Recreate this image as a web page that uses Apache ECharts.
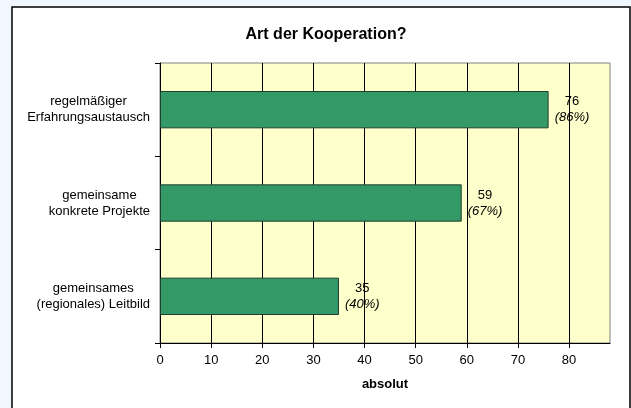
<!DOCTYPE html>
<html>
<head>
<meta charset="utf-8">
<script src="https://cdn.jsdelivr.net/npm/echarts@6/dist/echarts.min.js"></script>
<style>
  html, body { margin: 0; padding: 0; background: #f0f7fe; }
  #chart { width: 631px; height: 408px; }
</style>
</head>
<body>
<div id="chart"></div>
<script>
// Daten aus der Grafik
const categories = [
  ['regelmäßiger', 'Erfahrungsaustausch'],
  ['gemeinsame', 'konkrete Projekte'],
  ['gemeinsames', '(regionales) Leitbild']
];
const values = [76, 59, 35];
const percents = ['86%', '67%', '40%'];
const xTicks = [0, 10, 20, 30, 40, 50, 60, 70, 80];

const font = '"Liberation Sans", Arial, sans-serif';
let myChart = echarts.init(document.getElementById('chart'));

let option = {
  animation: false,
  textStyle: { fontFamily: font },
  graphic: [{
    type: 'rect',
    shape: { x: 12, y: 7, width: 618, height: 410 },
    style: { fill: '#ffffff', stroke: '#000000', lineWidth: 1.5 },
    z: -10, silent: true
  }],
  title: {
    text: 'Art der Kooperation?',
    left: 321, top: 22, textAlign: 'center',
    textStyle: { fontFamily: font, fontSize: 16, fontWeight: 'bold', color: '#000' }
  },
  grid: {
    left: 160, right: 21, top: 63, bottom: 65,
    show: true, backgroundColor: '#ffffcc', borderColor: '#808080', borderWidth: 1
  },
  xAxis: {
    type: 'value', min: 0, max: 88, interval: 10,
    name: 'absolut', nameLocation: 'middle', nameGap: 35,
    nameTextStyle: { fontFamily: font, fontSize: 13, fontWeight: 'bold', color: '#000' },
    axisLine: { show: true, lineStyle: { color: '#000', width: 1 } },
    axisTick: { show: true, length: 5, lineStyle: { color: '#000' }, customValues: xTicks },
    axisLabel: { fontFamily: font, fontSize: 13, color: '#000', margin: 11, customValues: xTicks },
    splitLine: { show: true, lineStyle: { color: '#000', width: 1 } }
  },
  yAxis: {
    type: 'category', inverse: true,
    data: categories.map(c => c.join('\n')),
    axisLine: { show: true, lineStyle: { color: '#000', width: 1 } },
    axisTick: { show: true, length: 5, lineStyle: { color: '#000' } },
    axisLabel: {
      margin: 10, fontFamily: font, fontSize: 13, color: '#000', lineHeight: 16,
      formatter: v => v.split('\n').map(s => '{c|' + s + '}').join('\n'),
      rich: { c: { align: 'center', fontFamily: font, fontSize: 13, color: '#000', lineHeight: 16 } }
    }
  },
  series: [{
    type: 'bar',
    data: values,
    barWidth: '40%',
    itemStyle: { color: '#339966', borderColor: '#1f3f2f', borderWidth: 1 },
    label: {
      show: true, position: 'right', distance: 6,
      formatter: p => '{v|' + p.value + '}\n{p|(' + percents[p.dataIndex] + ')}',
      rich: {
        v: { align: 'center', fontFamily: font, fontSize: 13, color: '#000', lineHeight: 16 },
        p: { align: 'center', fontFamily: font, fontSize: 13, fontStyle: 'italic', color: '#000', lineHeight: 16 }
      }
    }
  }]
};
myChart.setOption(option);
</script>
</body>
</html>
